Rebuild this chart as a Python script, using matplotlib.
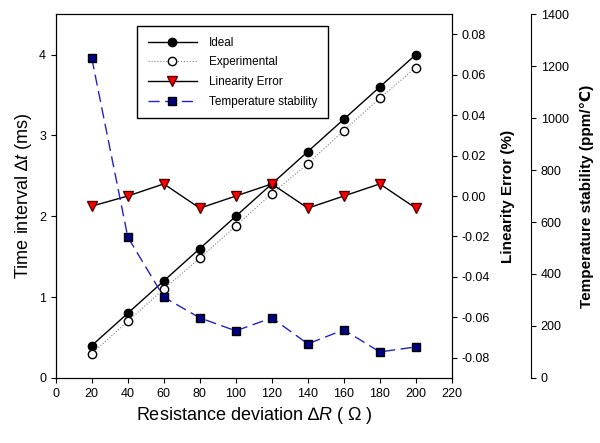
import matplotlib
matplotlib.use("Agg")
import matplotlib.pyplot as plt

plt.rcParams['font.family'] = ['Liberation Sans', 'DejaVu Sans']
plt.rcParams['mathtext.fontset'] = 'custom'
plt.rcParams['mathtext.rm'] = 'Liberation Sans'
plt.rcParams['mathtext.it'] = 'Liberation Sans:italic'

resistance = [20, 40, 60, 80, 100, 120, 140, 160, 180, 200]
ideal = [0.4, 0.8, 1.2, 1.6, 2.0, 2.4, 2.8, 3.2, 3.6, 4.0]
experimental = [0.3, 0.7, 1.1, 1.48, 1.88, 2.28, 2.65, 3.06, 3.46, 3.84]
linearity = [-0.005, 0.0, 0.006, -0.006, 0.0, 0.006, -0.006, 0.0, 0.006, -0.006]
temp_stab = [1230, 542, 311, 231, 181, 231, 131, 185, 100, 119]

fig = plt.figure(figsize=(6.0, 4.43), dpi=100)
ax = fig.add_axes([0.093, 0.147, 0.66, 0.821])

l1, = ax.plot(resistance, ideal, '-o', color='black', lw=1, ms=6,
              mfc='black', mec='black', label='Ideal')
l2, = ax.plot(resistance, experimental, ':o', color='gray', lw=0.8, ms=6,
              mfc='white', mec='black', label='Experimental')
ax.set_xlim(0, 220)
ax.set_ylim(0, 4.5)
ax.set_xticks(range(0, 221, 20))
ax.set_yticks([0, 1, 2, 3, 4])
ax.set_xlabel('Resistance deviation \u2206$R$ ( \u03a9 )', fontsize=13)
ax.set_ylabel('Time interval \u2206$t$ (ms)', fontsize=13)
ax.tick_params(labelsize=9, direction='out')

ax2 = ax.twinx()
l3, = ax2.plot(resistance, linearity, '-v', color='black', lw=1, ms=7,
               mfc='red', mec='#550000', label='Linearity Error')
lin_ticks = [-0.08, -0.06, -0.04, -0.02, 0.0, 0.02, 0.04, 0.06, 0.08]
ax2.set_ylim(-0.09, 0.09)
ax2.set_yticks(lin_ticks)
ax2.set_yticklabels(['%.2f' % v for v in lin_ticks])
ax2.set_ylabel('Linearity Error (%)', fontsize=11, fontweight='bold', labelpad=8)
ax2.tick_params(labelsize=9)

ax3 = ax.twinx()
ax3.spines['right'].set_position(('axes', 1.2))
ax3.spines['right'].set_bounds(0, 1400)
for s in ['top', 'left', 'bottom']:
    ax3.spines[s].set_visible(False)
l4, = ax3.plot(resistance, temp_stab, '--s', color='#2222cc', lw=1, ms=6,
               dashes=(8, 4), mfc='#000080', mec='black', label='Temperature stability')
ax3.set_ylim(0, 1400)
ax3.set_yticks(range(0, 1401, 200))
ax3.set_ylabel('Temperature stability (ppm/\u2103)', fontsize=11, fontweight='bold', labelpad=8)
ax3.tick_params(labelsize=9)

leg = ax.legend(handles=[l1, l2, l3, l4], loc='upper left',
                bbox_to_anchor=(0.205, 0.967), borderaxespad=0, fontsize=8.5,
                handlelength=4.2, handletextpad=1.0, borderpad=0.9, labelspacing=0.65,
                fancybox=False, edgecolor='black', framealpha=1)
leg.get_frame().set_linewidth(1)

fig.savefig('out.png', dpi=100)
